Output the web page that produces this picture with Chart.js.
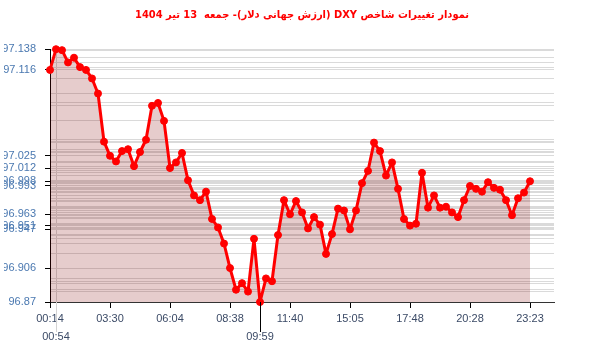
<!DOCTYPE html>
<html>
<head>
<meta charset="utf-8">
<script src="https://cdn.jsdelivr.net/npm/chart.js@4"></script>
<style>
  html, body { margin: 0; padding: 0; background: #fff; }
  #wrap { width: 600px; height: 352px; }
</style>
</head>
<body>
<div id="wrap"><canvas id="dxyChart" dir="rtl"></canvas></div>
<script>
const titleText = 'نمودار تغییرات شاخص DXY (ارزش جهانی دلار)- جمعه  13 تیر 1404';

const times = [
  '00:14', '00:54', '01:13', '01:33', '01:52', '02:11', '02:31', '02:50', '03:10', '03:20',
  '03:30', '03:45', '04:01', '04:16', '04:32', '04:47', '05:02', '05:18', '05:33', '05:49',
  '06:04', '06:19', '06:35', '06:50', '07:06', '07:21', '07:36', '07:52', '08:07', '08:23',
  '08:38', '08:54', '09:10', '09:27', '09:43', '09:59', '10:19', '10:39', '11:00', '11:20',
  '11:40', '12:00', '12:21', '12:41', '13:02', '13:22', '13:43', '14:03', '14:24', '14:44',
  '15:05', '15:21', '15:38', '15:54', '16:10', '16:27', '16:43', '16:59', '17:15', '17:32',
  '17:48', '18:04', '18:20', '18:36', '18:52', '19:08', '19:24', '19:40', '19:56', '20:12',
  '20:28', '20:45', '21:03', '21:20', '21:38', '21:55', '22:13', '22:30', '22:48', '23:05',
  '23:23'
];

const values = [
  97.116, 97.138, 97.137, 97.124, 97.129, 97.119, 97.116, 97.107, 97.091, 97.040,
  97.025, 97.019, 97.030, 97.032, 97.014, 97.029, 97.042, 97.078, 97.081, 97.062,
  97.012, 97.018, 97.028, 96.999, 96.983, 96.978, 96.987, 96.958, 96.949, 96.932,
  96.906, 96.883, 96.890, 96.881, 96.937, 96.870, 96.895, 96.892, 96.941, 96.978,
  96.963, 96.977, 96.965, 96.948, 96.960, 96.952, 96.921, 96.942, 96.969, 96.967,
  96.947, 96.967, 96.996, 97.009, 97.039, 97.030, 97.004, 97.018, 96.990, 96.958,
  96.951, 96.953, 97.007, 96.970, 96.983, 96.970, 96.971, 96.965, 96.960, 96.978,
  96.993, 96.990, 96.987, 96.997, 96.991, 96.989, 96.978, 96.962, 96.980, 96.986,
  96.998
];

const yTickValues = [97.138, 97.116, 97.025, 97.012, 96.998, 96.993, 96.963, 96.951, 96.947, 96.906, 96.87];
const xTickIndexes = [0, 10, 20, 30, 40, 50, 60, 70, 80];
const xMax = 84;

// the max and min points get their own labels on a second row
const maxIndex = values.indexOf(Math.max(...values));
const minIndex = values.indexOf(Math.min(...values));
const lowerRow = [maxIndex, minIndex];

const isLabelled = (v) => yTickValues.some((t) => Math.abs(t - v) < 1e-9);

const markerLines = {
  id: 'markerLines',
  afterDraw(chart) {
    const { ctx, chartArea, scales } = chart;
    ctx.save();
    ctx.lineWidth = 1;
    lowerRow.forEach((idx) => {
      const px = Math.round(scales.x.getPixelForValue(idx)) + 0.5;
      ctx.strokeStyle = idx === minIndex ? '#000' : '#d3d3d3';
      ctx.beginPath();
      ctx.moveTo(px, chartArea.bottom);
      ctx.lineTo(px, chartArea.bottom + 30);
      ctx.stroke();
    });
    ctx.restore();
  },
};

new Chart('dxyChart', {
  type: 'line',
  data: {
    datasets: [
      {
        data: values.map((v, i) => ({ x: i, y: v })),
        borderColor: '#ff0000',
        borderWidth: 3,
        borderJoinStyle: 'round',
        borderCapStyle: 'round',
        backgroundColor: 'rgba(128, 0, 0, 0.2)',
        fill: 'start',
        pointRadius: 3.5,
        pointBorderWidth: 1,
        pointBackgroundColor: '#ff0000',
        pointBorderColor: '#ff0000',
        tension: 0,
        clip: false,
      },
    ],
  },
  options: {
    responsive: true,
    maintainAspectRatio: false,
    animation: false,
    layout: { padding: { left: 4, right: 0, bottom: 4, top: 0 } },
    plugins: {
      legend: { display: false },
      tooltip: { enabled: false },
      title: {
        display: true,
        text: titleText,
        color: '#ff0000',
        font: { family: '"DejaVu Sans Condensed", "DejaVu Sans", sans-serif', size: 11, weight: 'bold' },
        padding: { top: 9, bottom: 27 },
      },
    },
    scales: {
      x: {
        type: 'linear',
        min: 0,
        max: xMax,
        afterBuildTicks: (scale) => {
          scale.ticks = [...xTickIndexes, ...lowerRow].sort((a, b) => a - b).map((v) => ({ value: v }));
        },
        ticks: {
          autoSkip: false,
          maxRotation: 0,
          padding: 2,
          color: '#3b4a66',
          font: { family: '"Liberation Sans", Arial, sans-serif', size: 11, lineHeight: '18px' },
          callback: (v) => (lowerRow.includes(v) ? ['', times[v]] : times[v]),
        },
        grid: {
          color: (ctx) => (ctx.tick && ctx.tick.value === maxIndex ? '#d3d3d3' : 'transparent'),
          tickColor: (ctx) => (ctx.tick && ctx.tick.value === maxIndex ? '#d3d3d3' : '#000'),
          tickLength: 6,
        },
        border: { color: '#333' },
      },
      y: {
        min: 96.87,
        max: 97.138,
        afterBuildTicks: (scale) => {
          const all = [...new Set([...values, ...yTickValues])].sort((a, b) => a - b);
          scale.ticks = all.map((v) => ({ value: v }));
        },
        afterFit: (scale) => {
          scale.width = 46;
        },
        ticks: {
          autoSkip: false,
          padding: 9,
          color: '#4a78b0',
          font: { family: '"Liberation Sans", Arial, sans-serif', size: 11 },
          callback: (v) => (isLabelled(v) ? String(v) : ''),
        },
        grid: {
          color: '#dadada',
          tickLength: 5,
          tickColor: (ctx) => (ctx.tick && isLabelled(ctx.tick.value) ? '#000' : 'transparent'),
        },
        border: { color: '#000' },
      },
      // empty strip on the right, keeps the plot off the edge
      right: {
        position: 'right',
        display: true,
        ticks: { display: false },
        grid: { drawOnChartArea: false, drawTicks: false },
        border: { display: false },
        afterFit: (scale) => {
          scale.width = 46;
        },
      },
    },
  },
  plugins: [markerLines],
});
</script>
</body>
</html>
